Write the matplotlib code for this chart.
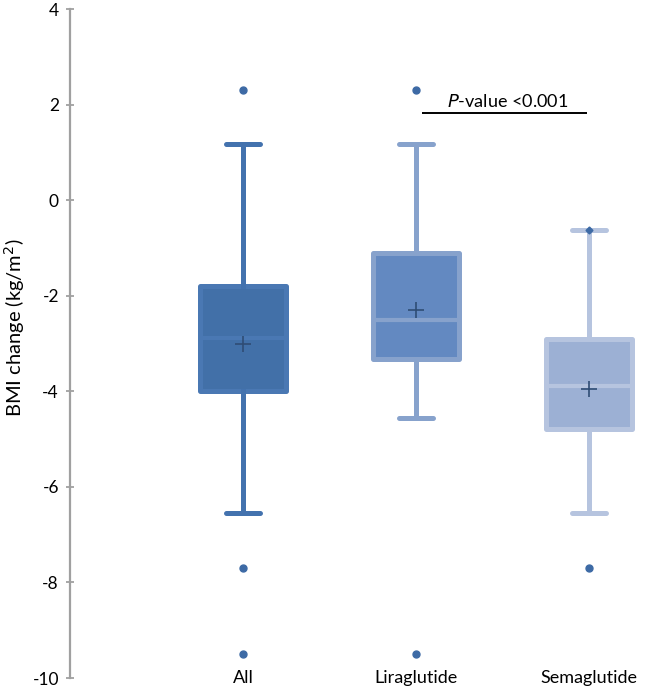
import matplotlib.pyplot as plt

# BMI change per treatment group (box plot summary)
groups = ['All', 'Liraglutide', 'Semaglutide']
whislo = [-6.55, -4.55, -6.55]
q1 = [-4.0, -3.33, -4.78]
med = [-2.88, -2.51, -3.89]
q3 = [-1.8, -1.1, -2.9]
whishi = [1.18, 1.18, -0.62]
means = [-3.01, -2.30, -3.96]
fliers = [[2.3, -7.7, -9.5], [2.3, -9.5], [-7.7]]
yticks = [4, 2, 0, -2, -4, -6, -8, -10]

fill_colors = ['#4270a8', '#6389c1', '#9cb0d4']
edge_colors = ['#4a78b3', '#87a2cc', '#b6c4df']

plt.rcParams['font.family'] = ['Lato', 'DejaVu Sans']

fig = plt.figure(figsize=(6.46, 6.91), dpi=100)
ax = fig.add_axes([0.1084, 0.0188, 0.8916, 0.968])

for i, g in enumerate(groups):
    stats = [dict(label=g, whislo=whislo[i], q1=q1[i], med=med[i], q3=q3[i],
                  whishi=whishi[i], mean=means[i], fliers=fliers[i])]
    ax.bxp(stats, positions=[i + 1], widths=0.5, patch_artist=True,
           showmeans=True, capwidths=0.2,
           boxprops=dict(facecolor=fill_colors[i], edgecolor=edge_colors[i], linewidth=3.6,
                         joinstyle='round'),
           whiskerprops=dict(color=edge_colors[i] if i else '#4372ae', linewidth=3.6),
           capprops=dict(color=edge_colors[i] if i else '#4372ae', linewidth=3.6,
                         solid_capstyle='round'),
           medianprops=dict(color=edge_colors[i], linewidth=3.0),
           meanprops=dict(marker='+', markersize=11, markeredgewidth=1.2,
                          markeredgecolor='#2f4d75'),
           flierprops=dict(marker='o', markersize=5, markerfacecolor='#3d6aa5',
                           markeredgecolor='#3d6aa5'))

# small diamond at the semaglutide maximum
ax.plot([3], [whishi[2]], marker='D', markersize=3.5, color='#3d6aa5', zorder=5)

# significance bar
ax.plot([2.035, 2.99], [1.82, 1.82], color='black', linewidth=1.4, solid_capstyle='butt')
ax.text(2.53, 2.07, r'$\it{P}$' + '-value <0.001', ha='center', va='center', fontsize=13)

ax.set_xlim(0, 3.33)
ax.set_ylim(-10, 4)
ax.set_yticks(yticks)
ax.set_yticklabels([str(t) for t in yticks], fontsize=12.5)
ax.set_xticks([])
ax.tick_params(axis='y', direction='inout', length=6, width=1.3, color='#a0a0a0', pad=5)
for side in ['top', 'right', 'bottom']:
    ax.spines[side].set_visible(False)
ax.spines['left'].set_color('#a0a0a0')
ax.spines['left'].set_linewidth(1.6)

for i, g in enumerate(groups):
    ax.text(i + 1, -10, g, ha='center', va='center', fontsize=13)

ax.set_ylabel('BMI change (kg/m$^2$)', fontsize=14.5)
ax.yaxis.set_label_coords(-0.074, 0.523)
ax.patch.set_alpha(0)

fig.savefig('out.png', dpi=100)
